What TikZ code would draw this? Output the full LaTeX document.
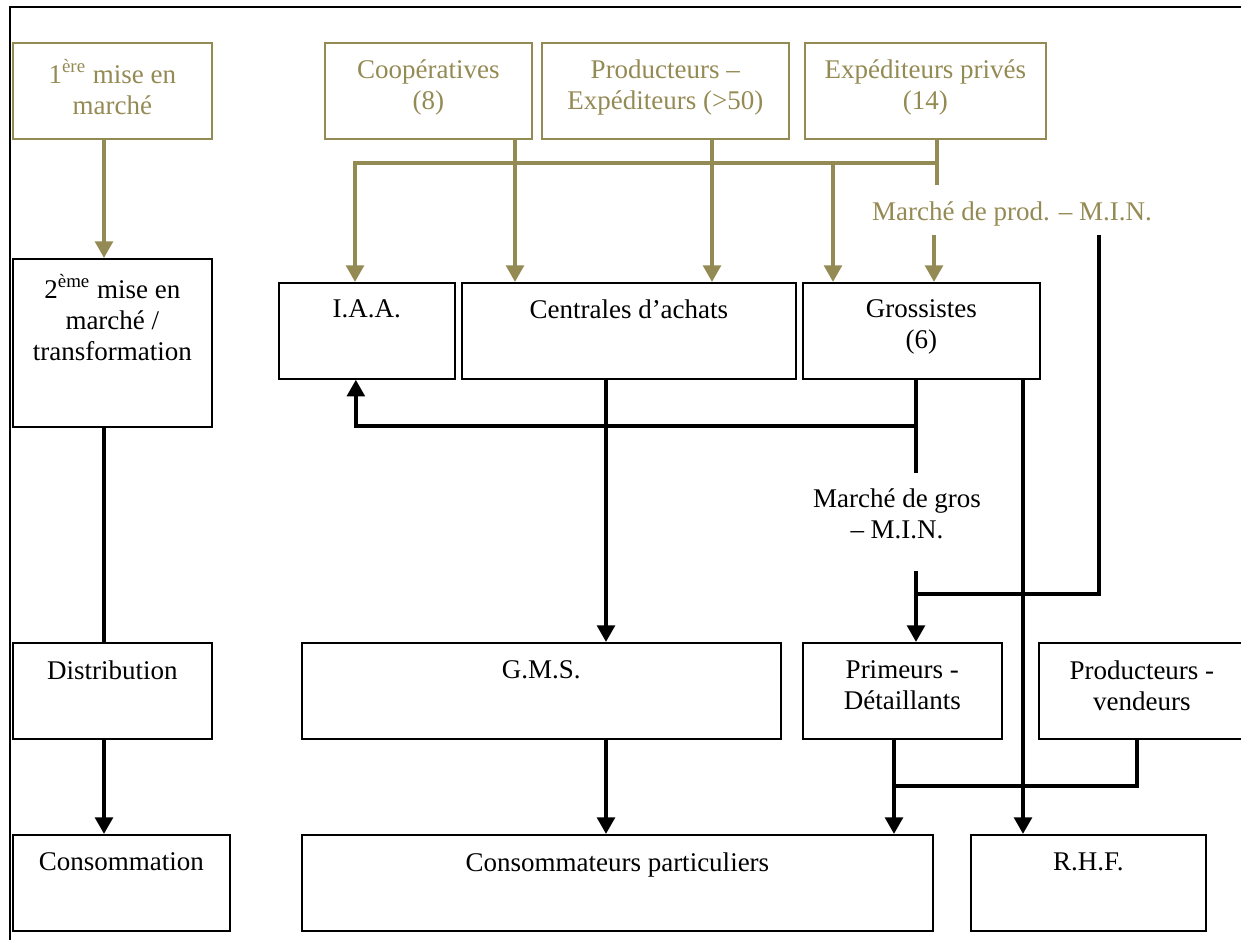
\documentclass[tikz,border=0pt]{standalone}
\usepackage{fontspec}
\setmainfont{Liberation Serif}
\usepackage{xcolor}
\usetikzlibrary{arrows.meta,positioning}
\definecolor{kaki}{HTML}{948A54}

\begin{document}
\begin{tikzpicture}[x=0.5pt, y=-0.5pt,
        box/.style={draw, line width=0.85pt, anchor=north west, inner sep=0pt, minimum height=48pt},
        kbox/.style={box, draw=kaki},
        txt/.style={inner sep=0pt, align=center, font=\fontsize{13.5}{15.5}\selectfont},
        ktxt/.style={txt, text=kaki},
        link/.style={line width=2.25pt},
        klink/.style={link, draw=kaki},
        >={Triangle[length=8.3pt, width=8.7pt]}]
    \useasboundingbox (0,0) rectangle (1241,939);
    \draw[line width=0.85pt] (10,960) -- (10,7) -- (1260,7);

    % boxes
    \node[kbox, minimum width=99.5pt] (first) at (12,42) {};
    \node[kbox, minimum width=103.5pt] (coop) at (324,42) {};
    \node[kbox, minimum width=123.5pt] (prodexp) at (541,42) {};
    \node[kbox, minimum width=120.5pt] (exp) at (804,42) {};
    \node[box, minimum width=99.5pt, minimum height=84pt] (second) at (12,258) {};
    \node[box, minimum width=88pt] (iaa) at (278,282) {};
    \node[box, minimum width=167pt] (centr) at (461,282) {};
    \node[box, minimum width=118.5pt] (gros) at (802,282) {};
    \node[box, minimum width=99.5pt] (distrib) at (12,642) {};
    \node[box, minimum width=239.5pt] (gms) at (301,642) {};
    \node[box, minimum width=99.5pt] (prim) at (802,642) {};
    \node[box, minimum width=103pt] (prodv) at (1038,642) {};
    \node[box, minimum width=108.5pt] (consom) at (12,834) {};
    \node[box, minimum width=315.5pt] (part) at (301,834) {};
    \node[box, minimum width=117.5pt] (rhf) at (970,834) {};

    % texts
    \node[ktxt, below=8.5pt of first.north] {1\textsuperscript{ère} mise en\\marché};
    \node[ktxt, below=8.5pt of coop.north] {Coopératives\\(8)};
    \node[ktxt, below=8.5pt of prodexp.north] {Producteurs –\\Expéditeurs (>50)};
    \node[ktxt, below=8.5pt of exp.north] {Expéditeurs privés\\(14)};
    \node[txt, below=8pt of second.north] {2\textsuperscript{ème} mise en\\marché /\\transformation};
    \node[txt, below=8.5pt of iaa.north] {I.A.A.};
    \node[txt, below=8.5pt of centr.north] {Centrales d’achats};
    \node[txt, below=8.5pt of gros.north] {Grossistes\\(6)};
    \node[txt, below=9pt of distrib.north] {Distribution};
    \node[txt, below=9pt of gms.north] {G.M.S.};
    \node[txt, below=9pt of prim.north] {Primeurs -\\Détaillants};
    \node[txt, below=9pt of prodv.north] {Producteurs -\\vendeurs};
    \node[txt, below=9pt of consom.north] {Consommation};
    \node[txt, below=9pt of part.north] {Consommateurs particuliers};
    \node[txt, below=9pt of rhf.north] {R.H.F.};
    \node[ktxt] (lblprod) at (1012,214) {Marché de prod. – M.I.N.};
    \node[txt] (lblgros) at (897,514) {Marché de gros\\– M.I.N.};

    % junctions
    \coordinate (l1) at (104,450);
    \coordinate (c0) at (355,163);
    \coordinate (c1) at (515,163);
    \coordinate (c2) at (712,163);
    \coordinate (c3) at (833,163);
    \coordinate (c4) at (937,163);
    \coordinate (pa) at (937,185);
    \coordinate (pb) at (934,235);
    \coordinate (m1) at (606,500);
    \coordinate (g0) at (916,426);
    \coordinate (ga) at (916,473);
    \coordinate (gb) at (916,571);
    \coordinate (rt) at (1099,235);
    \coordinate (r1) at (1099,594);
    \coordinate (j1) at (916,594);
    \coordinate (r2) at (1023,600);
    \coordinate (v1) at (894,786);
    \coordinate (v2) at (1137,786);

    % connectors
    \draw[klink, ->] (first.south -| l1) -- (second.north -| l1);
    \draw[klink, ->] (c4) -- (c0) -- (iaa.north -| c0);
    \draw[klink, ->] (coop.south -| c1) -- (centr.north -| c1);
    \draw[klink, ->] (prodexp.south -| c2) -- (centr.north -| c2);
    \draw[klink, ->] (c3) -- (gros.north -| c3);
    \draw[klink] (exp.south -| pa) -- (pa);
    \draw[klink, ->] (pb) -- (gros.north -| pb);

    \draw[link] (second.south -| l1) -- (distrib.north -| l1);
    \draw[link, ->] (distrib.south -| l1) -- (consom.north -| l1);
    \draw[link, ->] (centr.south -| m1) -- (gms.north -| m1);
    \draw[link, ->] (gms.south -| m1) -- (part.north -| m1);
    \draw[link] (gros.south -| g0) -- (ga);
    \draw[link, ->] (g0) -| ([xshift=-5.5pt]iaa.south);
    \draw[link, ->] (gb) -- (prim.north -| gb);
    \draw[link] (rt) -- (r1) -- (j1);
    \draw[link, ->] (gros.south -| r2) -- (rhf.north -| r2);
    \draw[link, ->] (prim.south -| v1) -- (part.north -| v1);
    \draw[link] (prodv.south -| v2) -- (v2) -- (v1);
\end{tikzpicture}
\end{document}
